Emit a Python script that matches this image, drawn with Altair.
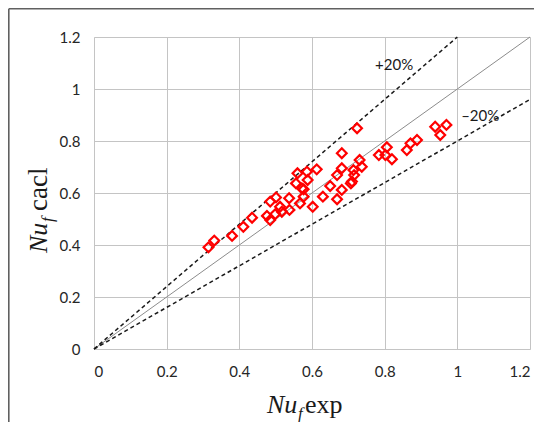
import altair as alt
import pandas as pd

# ---- data ----
nu_exp = [0.315, 0.331, 0.380, 0.411, 0.435, 0.476, 0.485, 0.501, 0.485, 0.499,
          0.512, 0.517, 0.537, 0.538, 0.556, 0.560, 0.577, 0.577, 0.586, 0.588,
          0.567, 0.602, 0.613, 0.630, 0.650, 0.669, 0.669, 0.682, 0.682, 0.682,
          0.707, 0.716, 0.724, 0.731, 0.714, 0.737, 0.784, 0.806, 0.802, 0.820,
          0.861, 0.871, 0.889, 0.939, 0.953, 0.970, 0.572, 0.710]
nu_calc = [0.391, 0.417, 0.435, 0.470, 0.505, 0.512, 0.567, 0.583, 0.496, 0.519,
           0.547, 0.528, 0.580, 0.535, 0.637, 0.676, 0.614, 0.586, 0.682, 0.650,
           0.560, 0.547, 0.691, 0.586, 0.627, 0.576, 0.669, 0.695, 0.753, 0.612,
           0.637, 0.669, 0.849, 0.727, 0.688, 0.701, 0.746, 0.776, 0.746, 0.730,
           0.765, 0.791, 0.804, 0.855, 0.823, 0.862, 0.618, 0.644]

diag_x = [0.0, 1.2]
diag_y = [0.0, 1.2]
plus_x = [0.0, 1.0]
plus_y = [0.0, 1.2]
minus_x = [0.0, 1.2]
minus_y = [0.0, 0.96]

annot_text = ["+20%", "\u201320%"]
annot_x = [0.826, 1.063]
annot_y = [1.092, 0.896]

tick_vals = [0, 0.2, 0.4, 0.6, 0.8, 1.0, 1.2]

# ---- tables ----
pts = pd.DataFrame({"x": nu_exp, "y": nu_calc})
diag = pd.DataFrame({"x": diag_x, "y": diag_y})
dashed = pd.DataFrame({
    "x": plus_x + minus_x,
    "y": plus_y + minus_y,
    "s": ["plus"] * 2 + ["minus"] * 2,
})
annot = pd.DataFrame({"x": annot_x, "y": annot_y, "t": annot_text})

sx = alt.Scale(domain=[0, 1.2], nice=False)
sy = alt.Scale(domain=[0, 1.2], nice=False)

xaxis = alt.Axis(values=tick_vals, format="~g", title=None, grid=True,
                 domain=False, ticks=False, tickSize=0, labelPadding=15,
                 labelFontSize=15, labelFont="Lato", labelColor="#262626",
                 gridColor="#c4c4c4", gridWidth=1)
yaxis = alt.Axis(values=tick_vals, format="~g", title=None, grid=True,
                 domain=False, ticks=False, tickSize=0, labelPadding=14,
                 labelFontSize=15, labelFont="Lato", labelColor="#262626",
                 gridColor="#c4c4c4", gridWidth=1)

X = alt.X("x:Q", scale=sx, axis=xaxis)
Y = alt.Y("y:Q", scale=sy, axis=yaxis)

diag_layer = alt.Chart(diag).mark_line(color="#8c8c8c", strokeWidth=1).encode(x=X, y=Y)
dash_layer = alt.Chart(dashed).mark_line(color="#1a1a1a", strokeWidth=1.5,
                                          strokeDash=[4, 3]).encode(
    x=alt.X("x:Q", scale=sx), y=alt.Y("y:Q", scale=sy), detail="s:N")
pt_layer = alt.Chart(pts).mark_point(shape="diamond", filled=False, color="#ff0000",
                                     strokeWidth=2.2, size=95, opacity=1).encode(
    x=alt.X("x:Q", scale=sx), y=alt.Y("y:Q", scale=sy))
annot_layer = alt.Chart(annot).mark_text(font="Lato", fontSize=15, color="#1a1a1a").encode(
    x=alt.X("x:Q", scale=sx), y=alt.Y("y:Q", scale=sy), text="t:N")

one = pd.DataFrame({"t": ["Nu", "f", "exp", "cacl"]})

def piece(txt, px, py, italic, size, angle=0):
    kw = dict(font="Liberation Serif", fontSize=size, color="#1a1a1a",
              align="left", baseline="alphabetic")
    if italic:
        kw["fontStyle"] = "italic"
    if angle:
        kw["angle"] = angle
    return alt.Chart(one).transform_filter(alt.datum.t == txt).mark_text(**kw).encode(
        x=alt.value(px), y=alt.value(py), text="t:N")

# x title: Nu_f exp
xt = [piece("Nu", 173, 376, True, 26),
      piece("f", 204, 382, True, 17),
      piece("exp", 211, 376, False, 26)]
# y title: Nu_f cacl (rotated)
yt = [piece("Nu", -47, 216, True, 26, 270),
      piece("f", -41, 185, True, 17, 270),
      piece("cacl", -47, 174, False, 27, 270)]

frame = pd.DataFrame({"k": [1]})
left_border = alt.Chart(frame).mark_rule(color="#606060", strokeWidth=1.6).encode(
    x=alt.value(-85.2), y=alt.value(-28.2), y2=alt.value(400))
top_border = alt.Chart(frame).mark_rule(color="#606060", strokeWidth=1.6).encode(
    x=alt.value(-85.2), x2=alt.value(460), y=alt.value(-28.2))

chart = alt.layer(diag_layer, dash_layer, pt_layer, annot_layer, *xt, *yt,
                  left_border, top_border).properties(
    width=436, height=312,
    padding={"left": 86, "top": 29, "right": 4, "bottom": 73},
    autosize=alt.AutoSizeParams(type="none"),
).configure_view(stroke="#c4c4c4", strokeWidth=1).configure(background="white")

chart.save("out.html", embed_options={"renderer": "svg", "actions": False})
